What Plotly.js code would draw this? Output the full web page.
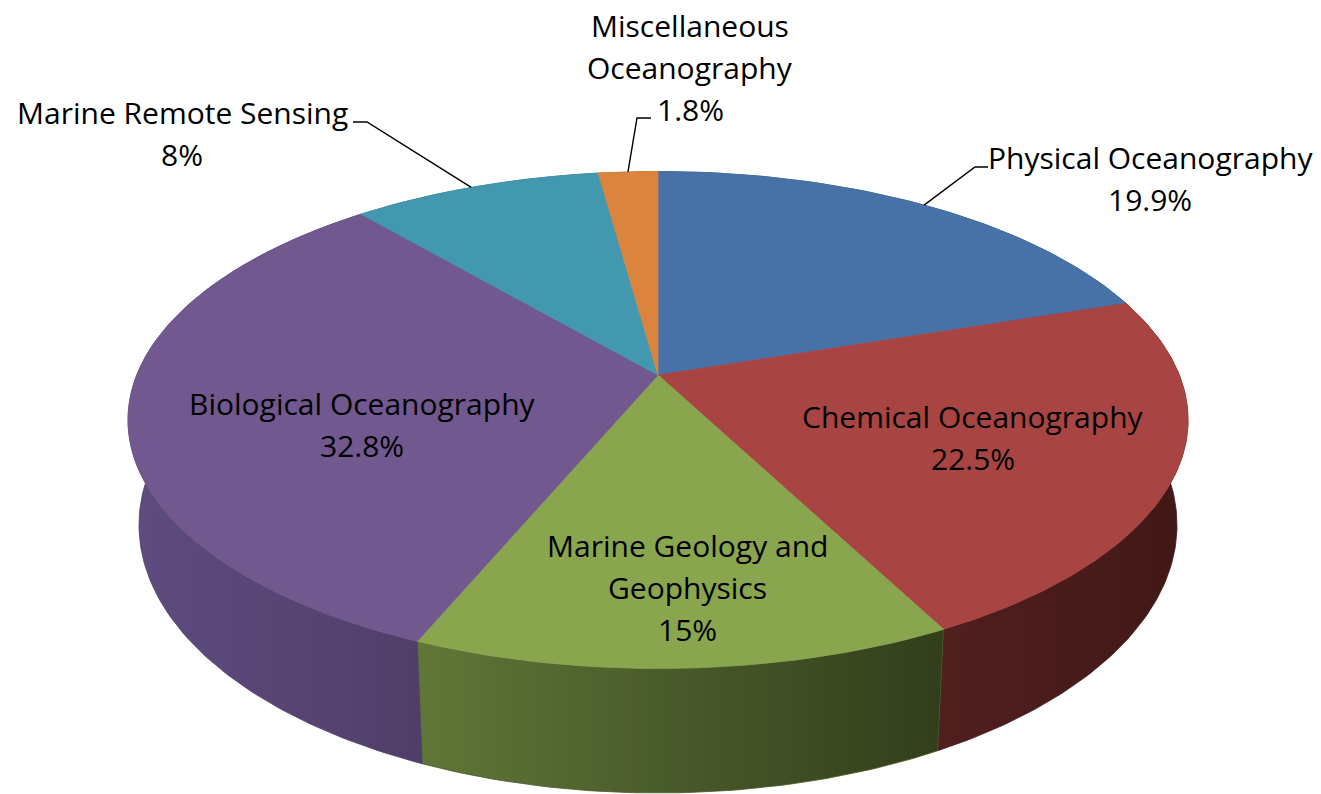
<!DOCTYPE html>
<html>
<head>
<meta charset="utf-8">
<script src="https://cdn.plot.ly/plotly-3.0.1.min.js"></script>
<style>html,body{margin:0;padding:0;background:#fff;}#chart{width:1321px;height:794px;}</style>
</head>
<body>
<div id="chart"></div>
<script>
// ---------- data ----------
const categories = ['Physical Oceanography', 'Chemical Oceanography', 'Marine Geology and Geophysics',
                    'Biological Oceanography', 'Marine Remote Sensing', 'Miscellaneous Oceanography'];
const values = [19.9, 22.5, 15, 32.8, 8, 1.8];
const labelLines = [['Physical Oceanography'], ['Chemical Oceanography'], ['Marine Geology and', 'Geophysics'],
                    ['Biological Oceanography'], ['Marine Remote Sensing'], ['Miscellaneous', 'Oceanography']];

// ---------- styles / layout constants ----------
const topColors = ['#4672A8', '#A84442', '#89A54E', '#71588F', '#4198AF', '#DB843D'];
const sideScales = [
  [[0, '#33527a'], [1, '#2b4566']],
  [[0, '#501f1e'], [1, '#411817']],
  [[0, '#617737'], [0.5, '#48592a'], [1, '#323e1b']],
  [[0, '#5f4c80'], [1, '#503e69']],
  [[0, '#2f6f80'], [1, '#2a6070']],
  [[0, '#a0602c'], [1, '#8a5226']]
];
// pie geometry (axis units = pixels)
const G = { cx: 658, apexY: 375, rimCY: 420, rimRX: 530, rimRY: 248.5, ryTop: 203, ryBot: 294,
            botCY: 525, botRX: 519, botRY: 268,
            // perspective parameters for the right half
            pS: 521, pB: 171.5, pC: -0.1831 };
const labelPos = [[1150, 157], [973, 416], [687, 545], [362, 403], [182, 112], [690, 25]];
const lineStep = 42;
const leaderElbow = [[[975, 167], [988, 167]], null, null, null, [[367, 122], [353, 122]], [[637, 118], [651, 118]]];

// ---------- geometry ----------
const total = values.reduce((a, b) => a + b, 0);
function directionForFraction(f) {
  const th = 2 * Math.PI * f;
  const c = Math.cos(th), s = Math.sin(th);
  if (th <= Math.PI) {
    const X = s, Y = -c, den = 1 + G.pC * Y;
    const px = G.cx + G.pS * X / den;
    const py = (G.apexY + G.pB * Y) / den;
    return [px - G.cx, py - G.apexY];
  }
  return [G.rimRX * s, -(c > 0 ? G.ryTop : G.ryBot) * c];
}
function rimPointForFraction(f) {
  const d = directionForFraction(f);
  const dx = d[0], dy = d[1];
  const e = (G.apexY - G.rimCY) / G.rimRY, g = dy / G.rimRY, h = dx / G.rimRX;
  const A = h * h + g * g, B = 2 * e * g, C = e * e - 1;
  const k = (-B + Math.sqrt(B * B - 4 * A * C)) / (2 * A);
  return [G.cx + k * dx, G.apexY + k * dy];
}
function rimParam(p) {
  let t = Math.atan2((p[0] - G.cx) / G.rimRX, -(p[1] - G.rimCY) / G.rimRY);
  if (t < 0) t += 2 * Math.PI;
  return t;
}
function topAt(t) { return [G.cx + G.rimRX * Math.sin(t), G.rimCY - G.rimRY * Math.cos(t)]; }
function botAt(t) { return [G.cx + G.botRX * Math.sin(t), G.botCY - G.botRY * Math.cos(t)]; }
function arc(fn, t0, t1) {
  const n = Math.max(4, Math.ceil(Math.abs(t1 - t0) * 60));
  const pts = [];
  for (let i = 0; i <= n; i++) pts.push(fn(t0 + (t1 - t0) * i / n));
  return pts;
}

let cum = 0;
const slices = values.map((v, i) => {
  const f0 = cum / total; cum += v; const f1 = cum / total;
  const t0 = i === 0 ? 0 : rimParam(rimPointForFraction(f0));
  const t1 = f1 >= 0.99999 ? 2 * Math.PI : rimParam(rimPointForFraction(f1));
  return { f0, f1, t0, t1, mid: rimPointForFraction((f0 + f1) / 2) };
});

const sideTraces = [], topTraces = [], leaderTraces = [];
slices.forEach((s, i) => {
  const topArc = arc(topAt, s.t0, s.t1);
  const botArc = arc(botAt, s.t1, s.t0);
  const poly = topArc.concat(botArc); poly.push(topArc[0]);
  const xs = poly.map(p => p[0]);
  sideTraces.push({
    type: 'scatter', mode: 'lines', x: xs, y: poly.map(p => p[1]),
    fill: 'toself', hoverinfo: 'skip',
    line: { width: 0.8, color: sideScales[i][Math.floor(sideScales[i].length / 2)][1] },
    fillgradient: { type: 'horizontal', colorscale: sideScales[i], start: Math.min(...xs), stop: Math.max(...xs) }
  });
  const tp = [[G.cx, G.apexY]].concat(topArc); tp.push([G.cx, G.apexY]);
  topTraces.push({
    type: 'scatter', mode: 'lines', x: tp.map(p => p[0]), y: tp.map(p => p[1]),
    fill: 'toself', fillcolor: topColors[i], hoverinfo: 'skip',
    line: { width: 0.8, color: topColors[i] }
  });
  if (leaderElbow[i]) {
    const lp = [s.mid].concat(leaderElbow[i]);
    leaderTraces.push({
      type: 'scatter', mode: 'lines', x: lp.map(p => p[0]), y: lp.map(p => p[1]),
      hoverinfo: 'skip', line: { width: 1.4, color: '#000' }
    });
  }
});

// ---------- labels ----------
const annotations = [];
labelLines.forEach((lines, i) => {
  const all = lines.concat([values[i] + '%']);
  all.forEach((txt, j) => {
    annotations.push({
      xref: 'x', yref: 'y', x: labelPos[i][0], y: labelPos[i][1] + j * lineStep,
      text: txt, showarrow: false, xanchor: 'center', yanchor: 'middle',
      font: { family: 'Open Sans, sans-serif', size: 30, color: '#000' }
    });
  });
});

const layout = {
  width: 1321, height: 794, margin: { l: 0, r: 0, t: 0, b: 0 },
  paper_bgcolor: '#fff', plot_bgcolor: '#fff', showlegend: false,
  xaxis: { range: [0, 1321], visible: false, fixedrange: true },
  yaxis: { range: [794, 0], visible: false, fixedrange: true },
  annotations: annotations
};
Plotly.newPlot('chart', sideTraces.concat(topTraces, leaderTraces), layout, { displayModeBar: false, staticPlot: true });
</script>
</body>
</html>
